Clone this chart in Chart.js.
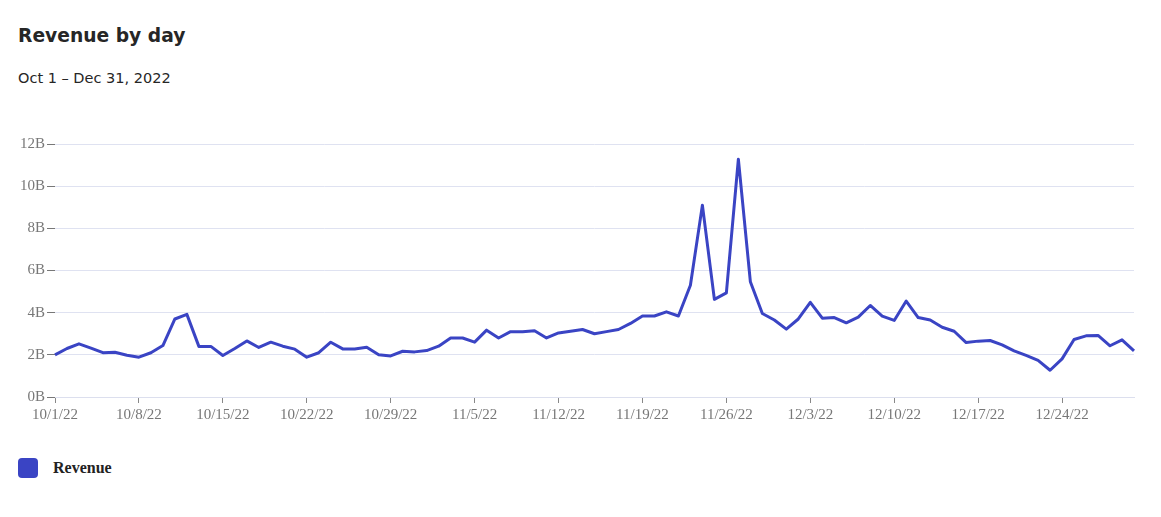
<!DOCTYPE html>
<html>
<head>
<meta charset="utf-8">
<script src="https://cdn.jsdelivr.net/npm/chart.js@4"></script>
<style>
  body { margin: 0; background: #fff; width: 1161px; height: 517px; position: relative; overflow: hidden; }
  #title { position: absolute; left: 18px; top: 25.5px; font: bold 18.7px/20px "DejaVu Sans", sans-serif; color: #262626; }
  #subtitle { position: absolute; left: 18px; top: 70.7px; font: 14.5px/14px "DejaVu Sans", sans-serif; color: #262626; }
  #chartBox { position: absolute; left: 0; top: 130px; }
  #legendBox { position: absolute; left: 18px; top: 458px; width: 20px; height: 20px; border-radius: 4px; background: #3a44c4; }
  #legendText { position: absolute; left: 53px; top: 458px; font: bold 16px/20px "Liberation Serif", serif; color: #222; }
</style>
</head>
<body>
<div id="title">Revenue by day</div>
<div id="subtitle">Oct 1 – Dec 31, 2022</div>
<canvas id="chartBox" width="1161" height="310"></canvas>
<div id="legendBox"></div>
<div id="legendText">Revenue</div>
<script>
// doanh thu theo ngày, đơn vị tỷ (B), 10/1/22 -> 12/30/22
const revenue = [
  2.0, 2.3, 2.52, 2.32, 2.1, 2.12, 1.98, 1.89, 2.1, 2.44,
  3.7, 3.92, 2.4, 2.4, 1.97, 2.3, 2.66, 2.35, 2.6, 2.41,
  2.27, 1.89, 2.1, 2.6, 2.28, 2.28, 2.36, 2.0, 1.95, 2.17,
  2.14, 2.2, 2.41, 2.8, 2.8, 2.6, 3.17, 2.8, 3.1, 3.1,
  3.14, 2.8, 3.04, 3.12, 3.2, 3.0, 3.1, 3.2, 3.49, 3.84,
  3.84, 4.04, 3.84, 5.3, 9.1, 4.63, 4.94, 11.28, 5.47, 3.96,
  3.65, 3.22, 3.7, 4.49, 3.74, 3.77, 3.52, 3.79, 4.34, 3.84,
  3.63, 4.55, 3.77, 3.65, 3.31, 3.12, 2.58, 2.65, 2.68, 2.47,
  2.19, 1.97, 1.74, 1.27, 1.81, 2.73, 2.9, 2.92, 2.43, 2.71,
  2.19
];

// nhãn ngày cho trục x
const days = [];
const start = new Date(2022, 9, 1);
for (let i = 0; i < revenue.length; i++) {
  const d = new Date(start.getFullYear(), start.getMonth(), start.getDate() + i);
  days.push((d.getMonth() + 1) + '/' + d.getDate() + '/22');
}

const yTicks = [0, 2, 4, 6, 8, 10, 12];
const tickEvery = 7;

const tickFont = { family: '"Liberation Serif", serif', size: 15 };

new Chart(document.getElementById('chartBox').getContext('2d'), {
  type: 'line',
  data: {
    labels: days,
    datasets: [{
      label: 'Revenue',
      data: revenue,
      borderColor: '#3a44c4',
      backgroundColor: '#3a44c4',
      borderWidth: 3,
      pointRadius: 0,
      tension: 0,
      borderJoinStyle: 'round'
    }]
  },
  options: {
    responsive: false,
    animation: false,
    devicePixelRatio: 1,
    layout: { padding: { top: 14, right: 27, left: 0, bottom: 0 } },
    plugins: { legend: { display: false }, tooltip: { enabled: false } },
    scales: {
      x: {
        afterFit: (s) => { s.height = 43; },
        grid: { drawOnChartArea: false, drawTicks: true, tickLength: 6, tickColor: '#888' },
        border: { display: true, color: '#dcdfee' },
        ticks: {
          autoSkip: false,
          maxRotation: 0,
          padding: 3,
          color: '#777',
          font: tickFont,
          callback: function (v, i) { return i % tickEvery === 0 ? days[i] : null; }
        }
      },
      y: {
        min: yTicks[0],
        max: yTicks[yTicks.length - 1],
        afterFit: (s) => { s.width = 55; },
        afterBuildTicks: (s) => { s.ticks = yTicks.map(v => ({ value: v })); },
        grid: { color: '#dfe2f1', tickColor: '#777', tickLength: 8 },
        border: { display: false },
        ticks: {
          padding: 2,
          color: '#777',
          font: tickFont,
          callback: (v) => v + 'B'
        }
      }
    }
  }
});
</script>
</body>
</html>
